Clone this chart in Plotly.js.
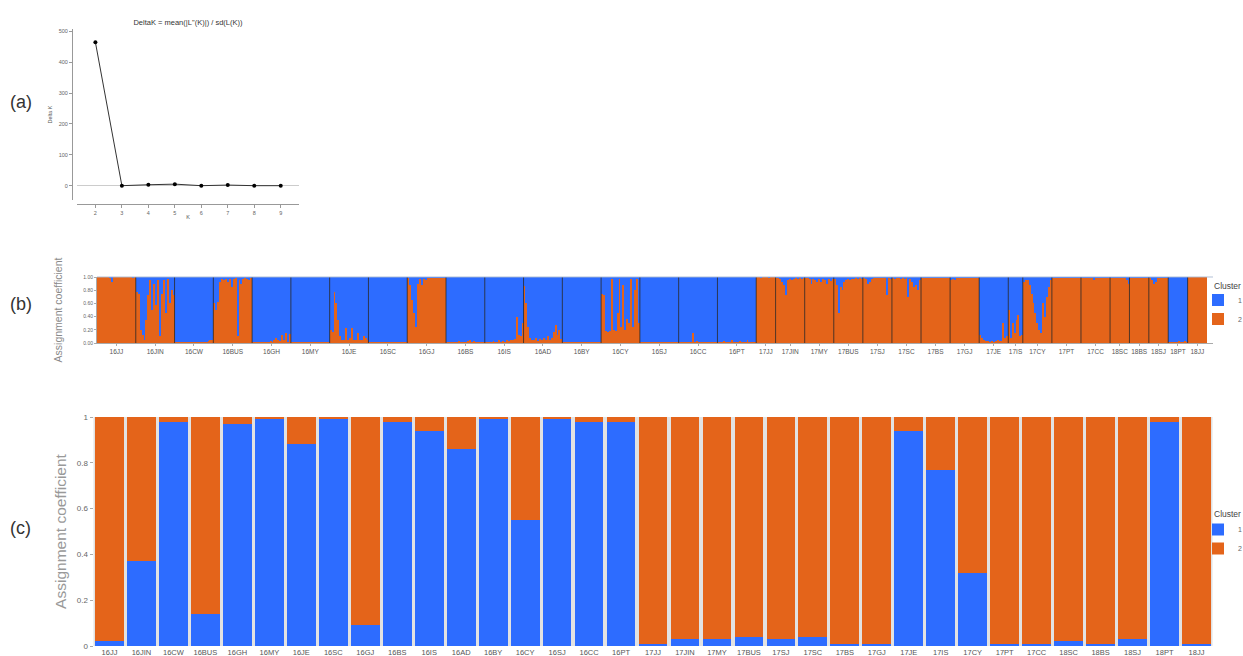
<!DOCTYPE html>
<html>
<head>
<meta charset="utf-8">
<script src="https://cdn.plot.ly/plotly-3.0.1.min.js"></script>
<style>html,body{margin:0;padding:0;background:#fff;}#chart{width:1243px;height:656px;}</style>
</head>
<body>
<div id="chart"></div>
<script>
// ---------- Panel (a): Delta K ----------
const kValues = [2, 3, 4, 5, 6, 7, 8, 9];
const deltaK = [465, 0, 3, 5, 0, 2, 0, 0];

// ---------- Populations ----------
const popLabels = ['16JJ','16JIN','16CW','16BUS','16GH','16MY','16JE','16SC','16GJ','16BS','16IS','16AD','16BY','16CY','16SJ','16CC','16PT',
  '17JJ','17JIN','17MY','17BUS','17SJ','17SC','17BS','17GJ','17JE','17IS','17CY','17PT','17CC',
  '18SC','18BS','18SJ','18PT','18JJ'];
const popSize = [40,40,40,40,40,40,40,40,40,40,40,40,40,40,40,40,40,
  20,30,30,30,30,30,30,30,30,15,30,30,30,
  20,20,20,20,20];

// ---------- Panel (b): individual membership in cluster 2 (orange), per population ----------
const q16JJ  = [1,1,1,1,1,1,0.99,0.93,1,1,1,1,1,1,1,1,1,1,0.99,1];
const q16JIN = [0.78,0.75,0.2,0.12,0.05,0.35,0.72,0.95,0.5,0.9,0.57,0.95,0.1,0.75,0.95,0.45,0.97,0.6,0.8,0.72];
const q16CW  = [0.02,0.01,0.02,0.01,0.01,0.02,0.01,0.01,0.01,0.02,0.01,0.01,0.01,0.01,0.02,0.01,0.02,0.03,0.04,0.05];
const q16BUS = [0.6,0.5,0.62,0.93,0.97,0.95,0.97,0.93,0.97,0.85,0.97,0.98,0.1,0.95,0.9,0.97,0.98,0.97,0.95,0.98];
const q16GH  = [0.01,0.01,0.01,0.01,0.02,0.01,0.02,0.01,0.02,0.03,0.02,0.04,0.08,0.05,0.03,0.12,0.04,0.15,0.02,0.13];
const q16MY  = [0.01,0.01,0.01,0.01,0.01,0.02,0.01,0.01,0.01,0.01,0.01,0.02,0.01,0.01,0.01,0.01,0.02,0.01,0.01,0.01];
const q16JE  = [0.2,0.17,0.78,0.6,0.35,0.1,0.05,0.04,0.22,0.05,0.08,0.22,0.04,0.05,0.15,0.04,0.05,0.1,0.07,0.04];
const q16SC  = [0.01,0.01,0.01,0.02,0.01,0.01,0.01,0.01,0.02,0.01,0.01,0.01,0.01,0.01,0.02,0.01,0.01,0.01,0.01,0.01];
const q16GJ  = [0.98,0.88,0.65,0.45,0.25,0.9,0.97,0.88,0.97,0.96,0.98,0.99,0.99,0.98,0.99,0.99,0.99,0.99,0.99,0.98];
const q16BS  = [0.01,0.01,0.02,0.01,0.01,0.02,0.03,0.02,0.01,0.02,0.01,0.03,0.04,0.02,0.03,0.01,0.02,0.01,0.02,0.01];
const q16IS  = [0.02,0.01,0.02,0.01,0.03,0.02,0.01,0.04,0.02,0.03,0.02,0.04,0.03,0.05,0.04,0.06,0.4,0.12,0.1,0.3];
const q16AD  = [0.87,0.6,0.25,0.08,0.04,0.05,0.08,0.03,0.06,0.04,0.07,0.05,0.1,0.04,0.08,0.17,0.28,0.12,0.2,0.06];
const q16BY  = [0.01,0.01,0.01,0.01,0.01,0.01,0.02,0.01,0.01,0.01,0.01,0.01,0.01,0.01,0.01,0.02,0.01,0.01,0.01,0.01];
const q16CY  = [0.75,0.72,0.18,0.17,0.18,0.97,0.2,0.18,0.45,0.97,0.25,0.88,0.2,0.37,0.3,0.97,0.25,0.8,0.97,0.3];
const q16SJ  = [0.01,0.02,0.01,0.01,0.02,0.01,0.01,0.02,0.01,0.01,0.02,0.01,0.01,0.02,0.01,0.01,0.01,0.02,0.01,0.01];
const q16CC  = [0.01,0.01,0.02,0.01,0.01,0.02,0.01,0.15,0.02,0.03,0.02,0.02,0.01,0.01,0.02,0.01,0.01,0.02,0.01,0.01];
const q16PT  = [0.02,0.01,0.02,0.03,0.02,0.01,0.02,0.05,0.02,0.01,0.02,0.03,0.02,0.01,0.02,0.04,0.02,0.01,0.02,0.02];
const q17JJ  = [1,1,0.99,1,1,1,0.99,1,1,1];
const q17JIN = [0.99,0.98,0.97,0.93,0.88,0.72,0.95,0.97,0.96,0.97,0.98,0.97,0.98,0.97,0.98];
const q17MY  = [0.99,0.98,0.97,0.9,0.97,0.96,0.93,0.97,0.92,0.97,0.95,0.9,0.97,0.94,0.97];
const q17BUS = [0.97,0.88,0.45,0.85,0.8,0.93,0.95,0.97,0.96,0.97,0.97,0.98,0.97,0.98,0.97];
const q17SJ  = [0.98,0.97,0.9,0.93,0.97,0.98,0.99,0.98,0.99,0.98,0.98,0.99,0.72,0.98,0.97];
const q17SC  = [0.98,0.97,0.99,0.98,0.97,0.98,0.97,0.98,0.7,0.97,0.93,0.85,0.88,0.8,0.95];
const q17BS  = [0.99,0.99,0.98,0.99,0.99,0.99,0.98,0.99,0.99,0.99,0.98,0.99,0.99,0.99,0.99];
const q17GJ  = [0.96,0.97,0.96,0.98,0.99,0.99,0.98,0.99,0.99,0.99,0.99,0.99,0.98,0.99,0.99];
const q17JE  = [0.12,0.08,0.04,0.03,0.03,0.02,0.03,0.02,0.03,0.04,0.03,0.03,0.3,0.08,0.1];
const q17IS  = [0.5,0.08,0.3,0.15,0.35,0.42,0.1,0.12];
const q17CY  = [0.93,0.96,0.95,0.88,0.75,0.6,0.45,0.3,0.2,0.15,0.6,0.4,0.7,0.85,0.95];
const q17PT  = [0.99,0.99,0.99,0.98,0.99,0.99,0.99,0.99,0.98,0.99,0.99,0.99,0.99,0.99,0.99];
const q17CC  = [0.99,0.99,0.99,0.99,0.98,0.99,0.95,0.99,0.99,0.99,0.99,0.99,0.99,0.98,0.99];
const q18SC  = [0.99,0.99,0.99,0.98,0.99,0.99,0.98,0.99,0.95,0.9];
const q18BS  = [0.99,0.99,0.99,0.99,0.98,0.99,0.99,0.99,0.99,0.99];
const q18SJ  = [0.99,0.95,0.9,0.93,0.99,0.99,0.99,0.99,0.99,0.99];
const q18PT  = [0.02,0.01,0.02,0.01,0.02,0.03,0.01,0.02,0.03,0.01];
const q18JJ  = [1,1,1,1,1,1,1,1,1,1];

const individualOrange = [q16JJ,q16JIN,q16CW,q16BUS,q16GH,q16MY,q16JE,q16SC,q16GJ,q16BS,q16IS,q16AD,q16BY,q16CY,q16SJ,q16CC,q16PT,
  q17JJ,q17JIN,q17MY,q17BUS,q17SJ,q17SC,q17BS,q17GJ,q17JE,q17IS,q17CY,q17PT,q17CC,
  q18SC,q18BS,q18SJ,q18PT,q18JJ];

// ---------- Panel (c): population mean membership in cluster 1 (blue) ----------
const popBlue = [0.02,0.37,0.98,0.14,0.97,0.99,0.88,0.99,0.09,0.98,0.94,0.86,0.99,0.55,0.99,0.98,0.98,
  0.01,0.03,0.03,0.04,0.03,0.04,0.01,0.01,0.94,0.77,0.32,0.01,0.01,
  0.02,0.01,0.03,0.98,0.01];

const yTicksB = [0, 0.2, 0.4, 0.6, 0.8, 1];
const yTickTextB = ['0.00','0.20','0.40','0.60','0.80','1.00'];
const yTickTextC = ['0','0.2','0.4','0.6','0.8','1'];

// ---------- Build ----------
const BLUE = '#2d6cff', ORANGE = '#e4641a';
const W = 1243, H = 656;
const px = v => v / W;
const py = v => 1 - v / H;
const FONT = 'Arial, "Liberation Sans", sans-serif';

const bx = [], bw = [], bOrange = [], bBlue = [];
const boundaries = [], centers = [];
let start = 0;
popSize.forEach((size, i) => {
  const vals = individualOrange[i];
  const w = size / vals.length;
  vals.forEach((v, j) => {
    bx.push(start + (j + 0.5) * w);
    bw.push(w);
    bOrange.push(v);
    bBlue.push(+(1 - v).toFixed(3));
  });
  centers.push(start + size / 2);
  start += size;
  if (i < popSize.length - 1) boundaries.push(start);
});
const total = start;

const traces = [
  { type: 'scatter', mode: 'lines+markers', x: kValues, y: deltaK, xaxis: 'x', yaxis: 'y',
    line: { color: '#333', width: 1 }, marker: { color: '#000', size: 4 }, showlegend: false, hoverinfo: 'x+y' },
  { type: 'bar', x: bx, y: bOrange, width: bw, xaxis: 'x2', yaxis: 'y2', name: '2', legend: 'legend',
    marker: { color: ORANGE, line: { width: 0 } } },
  { type: 'bar', x: bx, y: bBlue, width: bw, xaxis: 'x2', yaxis: 'y2', name: '1', legend: 'legend',
    marker: { color: BLUE, line: { width: 0 } } },
  { type: 'bar', x: popLabels, y: popBlue, width: 0.9, xaxis: 'x3', yaxis: 'y3', name: '1', legend: 'legend2',
    marker: { color: BLUE, line: { width: 0 } } },
  { type: 'bar', x: popLabels, y: popBlue.map(v => +(1 - v).toFixed(3)), width: 0.9, xaxis: 'x3', yaxis: 'y3', name: '2', legend: 'legend2',
    marker: { color: ORANGE, line: { width: 0 } } }
];

const shapes = boundaries.map(b => ({
  type: 'line', xref: 'x2', yref: 'y2 domain', x0: b, x1: b, y0: 0, y1: 1,
  line: { color: 'rgba(40,40,40,0.8)', width: 1 }
}));
shapes.push({ type: 'rect', xref: 'x3 domain', yref: 'y3 domain', x0: 0, x1: 1, y0: 0, y1: 1,
  fillcolor: '#e2e2e2', line: { width: 0 }, layer: 'below' });
shapes.push({ type: 'line', xref: 'x2 domain', yref: 'y2 domain', x0: 0, x1: 1, y0: 1, y1: 1,
  line: { color: 'rgba(170,185,210,0.9)', width: 1 } });

const pxPerUnitB = (1207 - 97) / total;

const legendFont = { size: 7, color: '#666' };
const labelFont = { size: 18, color: '#333' };

const layout = {
  width: W, height: H,
  margin: { l: 0, r: 0, t: 0, b: 0, autoexpand: false },
  paper_bgcolor: '#fff', plot_bgcolor: '#fff',
  font: { family: FONT, color: '#444' },
  barmode: 'stack', bargap: 0,
  title: { text: "DeltaK = mean(|L''(K)|) / sd(L(K))", x: px(188), xanchor: 'center', xref: 'paper',
    y: py(22), yanchor: 'middle', yref: 'container', font: { size: 7.5, color: '#333' } },
  // Panel (a)
  xaxis: { domain: [px(77), px(299)], range: [1.305, 9.69], anchor: 'free', position: py(204),
    tickvals: kValues, showline: true, linecolor: '#999', linewidth: 1, ticks: 'outside', ticklen: 3, tickcolor: '#999',
    showgrid: false, zeroline: false, tickfont: { size: 5.5, color: '#666' },
    title: { text: 'K', font: { size: 5.5, color: '#555' }, standoff: 0 } },
  yaxis: { domain: [py(200), py(29)], range: [-46.4, 507.8], anchor: 'free', position: px(72),
    tickvals: [0, 100, 200, 300, 400, 500], showline: true, linecolor: '#999', linewidth: 1, ticks: 'outside', ticklen: 3, tickcolor: '#999',
    showgrid: false, zeroline: true, zerolinecolor: '#ccc', zerolinewidth: 1, tickfont: { size: 5.5, color: '#666' },
    title: { text: 'Delta K', font: { size: 5.5, color: '#555' }, standoff: 4 } },
  // Panel (b)
  xaxis2: { domain: [px(97), px(1213)], range: [0, total + 6 / pxPerUnitB], anchor: 'y2',
    tickvals: centers, ticktext: popLabels, showline: true, linecolor: '#aaa', linewidth: 1,
    ticks: 'outside', ticklen: 2, tickcolor: '#aaa', showgrid: false, zeroline: false,
    tickfont: { size: 6.5, color: '#555' }, tickangle: 0 },
  yaxis2: { domain: [py(343), py(277)], range: [0, 1], anchor: 'x2',
    tickvals: yTicksB, ticktext: yTickTextB, showline: true, linecolor: '#aaa', linewidth: 1,
    ticks: 'outside', ticklen: 2, tickcolor: '#aaa', showgrid: false, zeroline: false,
    tickfont: { size: 5, color: '#666' },
    title: { text: 'Assignment coefficient', font: { size: 10.5, color: '#8a8a8a' }, standoff: 18 } },
  // Panel (c)
  xaxis3: { domain: [px(93.5), px(1212.5)], anchor: 'y3', type: 'category',
    showline: false, ticks: '', showgrid: false, zeroline: false,
    tickfont: { size: 7.5, color: '#555' }, tickangle: 0 },
  yaxis3: { domain: [py(646), py(417)], range: [0, 1], anchor: 'x3',
    tickvals: yTicksB, ticktext: yTickTextC, showline: false, ticks: 'outside', ticklen: 3, tickcolor: '#aaa',
    showgrid: false, zeroline: false, tickfont: { size: 8, color: '#666' },
    title: { text: 'Assignment coefficient', font: { size: 15.5, color: '#999' }, standoff: 6 } },
  legend: { x: px(1198), xanchor: 'left', y: py(285.5), yanchor: 'top', traceorder: 'reversed',
    bgcolor: 'rgba(0,0,0,0)', font: legendFont, itemwidth: 30 },
  legend2: { x: px(1198), xanchor: 'left', y: py(515), yanchor: 'top', traceorder: 'normal',
    bgcolor: 'rgba(0,0,0,0)', font: legendFont, itemwidth: 30 },
  shapes: shapes,
  annotations: [
    { text: '(a)', x: px(21), y: py(102), xref: 'paper', yref: 'paper', xanchor: 'center', yanchor: 'middle', showarrow: false, font: labelFont },
    { text: '(b)', x: px(21), y: py(304), xref: 'paper', yref: 'paper', xanchor: 'center', yanchor: 'middle', showarrow: false, font: labelFont },
    { text: '(c)', x: px(21), y: py(528), xref: 'paper', yref: 'paper', xanchor: 'center', yanchor: 'middle', showarrow: false, font: labelFont },
    { text: 'Cluster', x: px(1212), y: py(286), xref: 'paper', yref: 'paper', xanchor: 'left', yanchor: 'middle', showarrow: false, font: { size: 8.5, color: '#444' } },
    { text: 'Cluster', x: px(1212), y: py(514), xref: 'paper', yref: 'paper', xanchor: 'left', yanchor: 'middle', showarrow: false, font: { size: 8.5, color: '#444' } }
  ]
};

Plotly.newPlot('chart', traces, layout, { displayModeBar: false, staticPlot: true });
</script>
</body>
</html>
